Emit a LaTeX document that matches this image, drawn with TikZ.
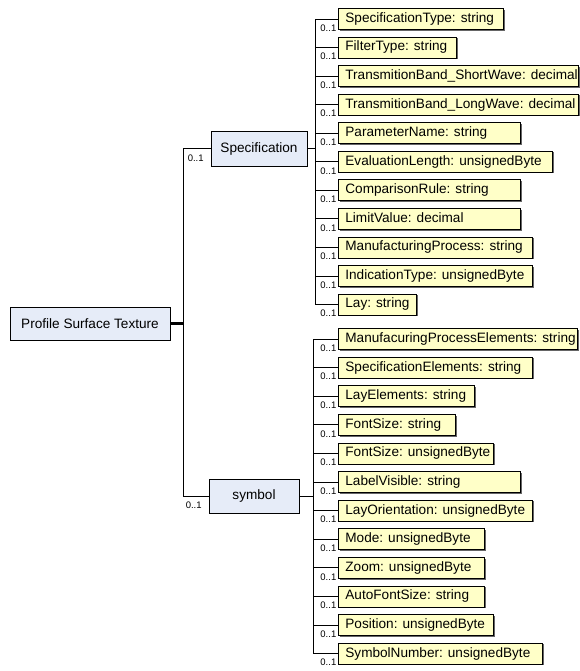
\documentclass[tikz,border=0pt]{standalone}
\usepackage{fontspec}
\setmainfont{Liberation Sans}
\usetikzlibrary{shadows,calc}
\definecolor{boxblue}{RGB}{230,236,248}
\definecolor{boxyellow}{RGB}{255,255,200}
\tikzset{
  box/.style={draw=black, line width=0.8pt, inner sep=0pt,
    font=\fontsize{13.6}{15}\selectfont,
    drop shadow={shadow xshift=1.2pt, shadow yshift=-1.2pt, fill=black!60, opacity=1}},
  parent/.style={box, fill=boxblue},
  leaf/.style={box, fill=boxyellow, anchor=west, minimum height=21pt,
    inner xsep=7pt, text height=9.6pt, text depth=2.8pt},
  mult/.style={inner sep=0pt, font=\fontsize{9.5}{10}\selectfont},
  conn/.style={draw=black, line width=0.8pt},
}
\begin{document}
\begin{tikzpicture}[x=1pt,y=-1pt]
\useasboundingbox[fill=white] (0,0) rectangle (580,671);

\node[parent, minimum width=160pt, minimum height=33pt] (root) at (90,323.5) {Profile Surface Texture};
\node[parent, minimum width=96pt, minimum height=35pt] (spec) at (259,148.5) {Specification};
\node[parent, minimum width=90pt, minimum height=34pt] (sym) at (254,496) {symbol};

\coordinate (rb) at (183,323.5);
\draw[line width=2.5pt] (root.east) -- (rb);
\draw[conn, line width=0.9pt] (spec.west) -| (rb);
\draw[conn, line width=0.9pt] (sym.west) -| (rb);
\node[mult, anchor=north west] (mspec) at ($(spec.west)+(-23,6)$) {0..1};
\node[mult, anchor=north west] (msym) at ($(sym.west)+(-23,6)$) {0..1};

\coordinate (sb) at (315,148.5);
\draw[conn] (spec.east) -- (sb);
\coordinate (yb) at (313,496);
\draw[conn] (sym.east) -- (yb);

\foreach \w/\t [count=\i from 0] in {
  165/{SpecificationType: string},
  118/{FilterType: string},
  240/{TransmitionBand\_ShortWave: decimal},
  240/{TransmitionBand\_LongWave: decimal},
  182/{ParameterName: string},
  214/{EvaluationLength: unsignedByte},
  182/{ComparisonRule: string},
  182/{LimitValue: decimal},
  194/{ManufacturingProcess: string},
  194/{IndicationType: unsignedByte},
  78/{Lay: string}}{
  \pgfmathsetmacro\tw{\w-14}
  \node[leaf] (s\i) at (338,19+28.55*\i) {\makebox[\tw pt][l]{\t}};
  \draw[conn] (s\i.west) -| (sb);
  \node[mult, anchor=north east] (ms\i) at ($(s\i.west)+(-1.5,5.5)$) {0..1};
}

\foreach \w/\t [count=\i from 0] in {
  239/{ManufacuringProcessElements: string},
  194/{SpecificationElements: string},
  136/{LayElements: string},
  117/{FontSize: string},
  155/{FontSize: unsignedByte},
  182/{LabelVisible: string},
  194/{LayOrientation: unsignedByte},
  146/{Mode: unsignedByte},
  146/{Zoom: unsignedByte},
  146/{AutoFontSize: string},
  155/{Position: unsignedByte},
  204/{SymbolNumber: unsignedByte}}{
  \pgfmathsetmacro\tw{\w-14}
  \node[leaf] (y\i) at (338,339+28.6*\i) {\makebox[\tw pt][l]{\t}};
  \draw[conn] (y\i.west) -| (yb);
  \node[mult, anchor=north east] (my\i) at ($(y\i.west)+(-1.5,5.5)$) {0..1};
}
\end{tikzpicture}
\end{document}
